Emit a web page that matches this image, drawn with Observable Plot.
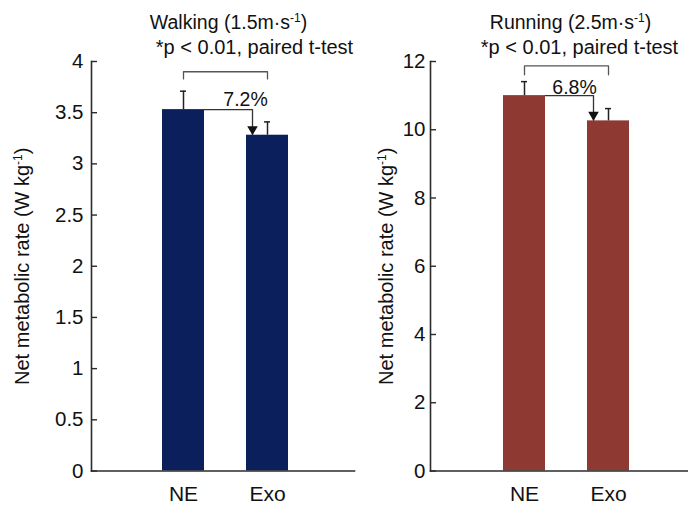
<!DOCTYPE html>
<html><head><meta charset="utf-8">
<script src="https://cdn.jsdelivr.net/npm/d3@7"></script>
<script src="https://cdn.jsdelivr.net/npm/@observablehq/plot@0.6"></script>
<style>
body{margin:0;background:#fff;}
#wrap{display:flex;width:688px;height:505px;overflow:hidden;}
#wrap svg{display:block;}
</style></head><body><div id="wrap"></div>
<script>
// ---- data ----
const conditions = ["NE", "Exo"];
const walkingMean = [3.53, 3.28];
const walkingSD = [0.18, 0.13];
const runningMean = [11.0, 10.26];
const runningSD = [0.41, 0.36];
const walkingTicks = [0, 0.5, 1, 1.5, 2, 2.5, 3, 3.5, 4];
const runningTicks = [0, 2, 4, 6, 8, 10, 12];
const walkingTitle = "Walking (1.5m·s⁻¹)";
const runningTitle = "Running (2.5m·s⁻¹)";
const statNote = "*p < 0.01, paired t-test";
const walkingReduction = "7.2%";
const runningReduction = "6.8%";
const walkingBracket = [3.83, 3.9];   // leg end, bracket top
const runningBracket = [11.61, 11.87];
const yLabel = "Net metabolic rate (W kg⁻¹)";

const FONT = "'Liberation Sans', Arial, Helvetica, sans-serif";
const AX = "#2b2b2b";

function superscripts(svg) {
  d3.select(svg).selectAll("text").each(function () {
    const t = this.textContent;
    if (!t.includes("⁻¹")) return;
    const [a, b] = t.split("⁻¹");
    const s = d3.select(this).text(null);
    s.append("tspan").text(a);
    s.append("tspan").attr("dy", "-7px").attr("font-size", "12px").text("-1");
    s.append("tspan").attr("dy", "7px").text(b);
  });
  return svg;
}

function panel(o) {
  const data = conditions.map((c, i) => ({cond: c, mean: o.means[i], top: o.means[i] + o.sds[i]}));
  const br = [
    {cond: conditions[0], y: o.bracket[0]},
    {cond: conditions[0], y: o.bracket[1]},
    {cond: conditions[1], y: o.bracket[1]},
    {cond: conditions[1], y: o.bracket[0]}
  ];
  const step = (o.xRange[1] - o.xRange[0]) / 2.5;
  const bw = step * 0.5;
  const arrowDx = -(bw / 2 - 6);
  const link = [{a: conditions[0], b: conditions[1], y1: o.means[0], y2: o.means[1]}];
  const svg = Plot.plot({
    width: o.width, height: 505,
    marginTop: 61, marginBottom: 34.5, marginLeft: o.marginLeft, marginRight: o.marginRight,
    style: {fontFamily: FONT, fontSize: "20px", color: "#111", background: "white", overflow: "visible"},
    x: {domain: conditions, range: o.xRange, padding: 0.5, label: null},
    y: {domain: [0, o.yMax], label: null},
    marks: [
      Plot.barY(data, {x: "cond", y: "mean", fill: o.color}),
      Plot.ruleX(data, {x: "cond", y1: "mean", y2: "top", stroke: "#222", strokeWidth: 1.5}),
      Plot.tickY(data, {x: "cond", y: "top", stroke: "#222", strokeWidth: 1.5, insetLeft: bw / 2 - 3, insetRight: bw / 2 - 3}),
      Plot.line(br, {x: "cond", y: "y", stroke: "#555", strokeWidth: 1.3}),
      Plot.ruleY(link, {x1: "a", x2: "b", y: "y1", stroke: "#333", strokeWidth: 1.3, insetLeft: bw, insetRight: bw - 6}),
      Plot.ruleX(link, {x: "b", y1: "y1", y2: "y2", dx: arrowDx, stroke: "#333", strokeWidth: 1.3}),
      Plot.dot(link, {x: "b", y: "y2", symbol: "triangle", r: 3.9, fill: "#111", stroke: null, rotate: 180, dx: arrowDx, dy: -6}),
      Plot.text(link, {x: "b", y: "y1", text: () => o.pct, dx: o.pctDx, dy: o.pctDy, lineAnchor: "bottom", fontSize: 19.5, fill: "#111"}),
      Plot.frame({anchor: "left", stroke: AX, strokeWidth: 1.6}),
      Plot.frame({anchor: "bottom", stroke: AX, strokeWidth: 1.6}),
      Plot.axisY({ticks: o.ticks, tickFormat: (d) => `${d}`, tickSize: 6, dx: 6, tickPadding: o.tickPadding, stroke: AX, strokeWidth: 1.4, label: null, fontSize: 20.5}),
      Plot.axisX({tickSize: 0, tickPadding: 15, label: null, fontSize: 21}),
      Plot.text([yLabel], {frameAnchor: "left", rotate: -90, dx: o.yLabelDx, lineAnchor: "middle", textAnchor: "middle", fontSize: 20, fill: "#111"}),
      Plot.text([o.title], {frameAnchor: "top", dx: o.titleDx, dy: -39, lineAnchor: "middle", fontSize: 19.5, fill: "#111"}),
      Plot.text([statNote], {frameAnchor: "top", dx: o.noteDx, dy: -14, lineAnchor: "middle", fontSize: 20, fill: "#111"})
    ]
  });
  return superscripts(svg);
}

const wrap = document.getElementById("wrap");
wrap.appendChild(panel({
  means: walkingMean, sds: walkingSD, ticks: walkingTicks, yMax: 4,
  title: walkingTitle, pct: walkingReduction, bracket: walkingBracket, color: "#0c1f5d",
  width: 360, marginLeft: 91, marginRight: 6, xRange: [120, 330], tickPadding: 8,
  yLabelDx: -69, titleDx: 5.5, noteDx: 31.5, pctDx: -22, pctDy: -4
}));
wrap.appendChild(panel({
  means: runningMean, sds: runningSD, ticks: runningTicks, yMax: 12,
  title: runningTitle, pct: runningReduction, bracket: runningBracket, color: "#8e3932",
  width: 328, marginLeft: 70, marginRight: 0, xRange: [101, 311], tickPadding: 5,
  yLabelDx: -44, titleDx: 11, noteDx: 20, pctDx: -34, pctDy: -2
}));
</script></body></html>
